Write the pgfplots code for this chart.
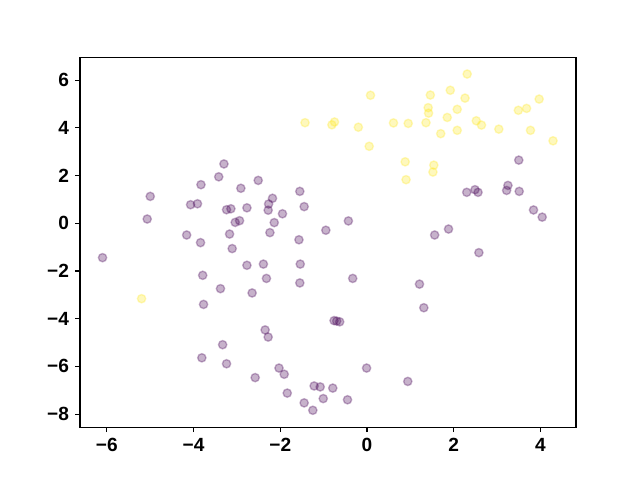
\documentclass[border=0pt]{standalone}
\usepackage{fontspec}
\setmainfont{Liberation Sans}
\usepackage{pgfplots}
\pgfplotsset{compat=1.18}
\definecolor{vpurple}{HTML}{440154}
\definecolor{vyellow}{HTML}{FDE725}
\begin{document}
\begin{tikzpicture}
\begin{axis}[
  scale only axis,
  width=4.96in, height=3.696in,
  xmin=-6.62, xmax=4.82,
  ymin=-8.55, ymax=6.95,
  xtick={-6,-4,-2,0,2,4},
  xticklabels={−6,−4,−2,0,2,4},
  ytick={-8,-6,-4,-2,0,2,4,6},
  yticklabels={−8,−6,−4,−2,0,2,4,6},
  tick align=outside,
  xtick pos=bottom, ytick pos=left,
  major tick length=3.5pt,
  tick style={line width=0.8pt, black},
  axis line style={line width=0.8pt},
  ticklabel style={font=\fontsize{13.8}{16}\selectfont\bfseries},
  xticklabel style={yshift=-1pt},
  yticklabel style={xshift=-1pt},
  clip=false,
]
\addplot[only marks, mark=*, mark size=3pt,
  mark options={fill=vpurple, draw=vpurple, fill opacity=0.3, draw opacity=0.3, line width=1pt}]
coordinates {
(-3.30,2.49) (-3.42,1.95) (-3.83,1.62) (-2.91,1.47) (-5.00,1.13)
(-4.07,0.78) (-3.91,0.82) (-3.24,0.57) (-3.14,0.61) (-2.77,0.65)
(-5.07,0.18) (-3.04,0.04) (-2.94,0.11) (-4.16,-0.49) (-3.17,-0.45)
(-3.84,-0.81) (-3.11,-1.06) (-2.51,1.80) (-1.55,1.34) (-2.18,1.05)
(-2.27,0.81) (-2.28,0.55) (-1.45,0.70) (-1.95,0.40) (-2.14,0.03)
(-0.43,0.10) (-2.24,-0.39) (-0.95,-0.29) (-1.57,-0.69) (3.50,2.65)
(2.49,1.41) (2.30,1.30) (2.56,1.30) (3.25,1.59) (3.22,1.38)
(3.51,1.34) (3.84,0.56) (4.04,0.26) (1.88,-0.24) (1.56,-0.49)
(2.58,-1.23) (1.21,-2.55) (1.31,-3.54) (0.94,-6.63) (-6.10,-1.44)
(-2.77,-1.76) (-3.79,-2.18) (-3.38,-2.74) (-2.65,-2.92) (-3.77,-3.40)
(-3.33,-5.09) (-3.81,-5.64) (-3.24,-5.89) (-2.39,-1.71) (-1.54,-1.71)
(-2.32,-2.31) (-1.55,-2.50) (-0.33,-2.31) (-0.76,-4.08) (-0.70,-4.10)
(-0.63,-4.13) (-2.35,-4.47) (-2.28,-4.77) (-2.03,-6.07) (-1.91,-6.33)
(-2.58,-6.47) (-0.01,-6.07) (-1.84,-7.12) (-1.22,-6.82) (-1.08,-6.86)
(-0.79,-6.91) (-1.01,-7.35) (-0.45,-7.40) (-1.45,-7.53) (-1.25,-7.84)
};
\addplot[only marks, mark=*, mark size=3pt,
  mark options={fill=vyellow, draw=vyellow, fill opacity=0.3, draw opacity=0.3, line width=1pt}]
coordinates {
(0.08,5.37) (-1.43,4.22) (-0.81,4.13) (-0.75,4.25) (-0.20,4.03)
(0.61,4.21) (0.95,4.19) (0.05,3.23) (0.88,2.58) (0.90,1.83)
(2.31,6.26) (1.92,5.58) (1.46,5.38) (2.26,5.25) (3.97,5.21)
(1.41,4.85) (1.42,4.62) (2.08,4.78) (3.49,4.74) (3.68,4.82)
(1.85,4.44) (1.36,4.22) (2.52,4.30) (2.64,4.12) (1.70,3.76)
(2.08,3.90) (3.04,3.95) (3.77,3.90) (4.29,3.46) (1.54,2.44)
(1.52,2.15) (-5.20,-3.16)
};
\end{axis}
\pgfresetboundingbox
\path[use as bounding box] (-0.8in,-0.528in) rectangle (5.6in,4.272in);
\end{tikzpicture}
\end{document}
